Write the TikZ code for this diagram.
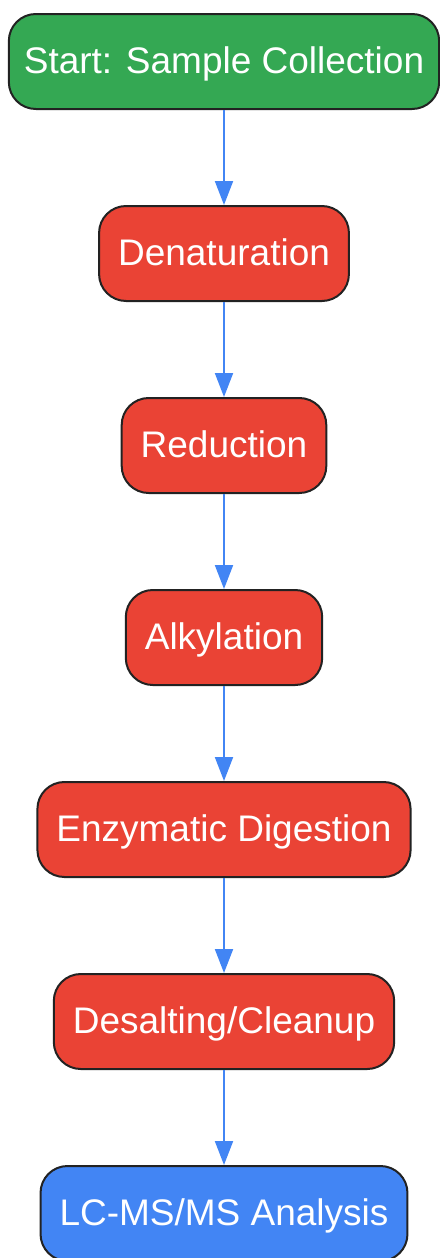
\documentclass[tikz,border=0pt]{standalone}
\usepackage{fontspec}
\setmainfont{Liberation Sans}
\usetikzlibrary{arrows.meta, positioning}
\definecolor{startgreen}{HTML}{34A853}
\definecolor{stepred}{HTML}{EA4335}
\definecolor{endblue}{HTML}{4285F4}
\definecolor{edgeblack}{HTML}{222222}
\tikzset{%
>={Triangle[width=18pt,length=24pt]},
  % Specifications for style of nodes:
            box/.style = {rectangle, rounded corners=27pt, draw=edgeblack,
                            line width=2pt, minimum height=95pt, inner xsep=19pt,
                            text height=27pt, text depth=3pt,
                            text=white, font=\fontsize{37}{44}\selectfont},
            startbox/.style = {box, fill=startgreen, inner xsep=15pt},
            stepbox/.style = {box, fill=stepred},
            endbox/.style = {box, fill=endblue},
            link/.style = {->, draw=endblue, line width=2pt}
}
\begin{document}
\begin{tikzpicture}[x=1pt, y=1pt, node distance=95pt]
                        \useasboundingbox (0,0) rectangle (439,-1258);
                        \node[startbox] (start) at (224,-61.5) {Start: Sample Collection};
                        \node[stepbox] (denat)[below=of start]{Denaturation};
                        \node[stepbox] (reduc)[below=of denat]{Reduction};
                        \node[stepbox] (alkyl)[below=of reduc]{Alkylation};
                        \node[stepbox] (digest)[below=of alkyl]{Enzymatic Digestion};
                        \node[stepbox] (desalt)[below=of digest]{Desalting/Cleanup};
                        \node[endbox] (lcms)[below=of desalt]{LC-MS/MS Analysis};
                        \draw[link] (start)--(denat);
                        \draw[link] (denat) -- (reduc);
                        \draw[link] (reduc)--(alkyl);
                        \draw[link] (alkyl)--(digest);
                        \draw[link] (digest)--(desalt);
                        \draw[link] (desalt)--(lcms);
                    \end{tikzpicture}
\end{document}
